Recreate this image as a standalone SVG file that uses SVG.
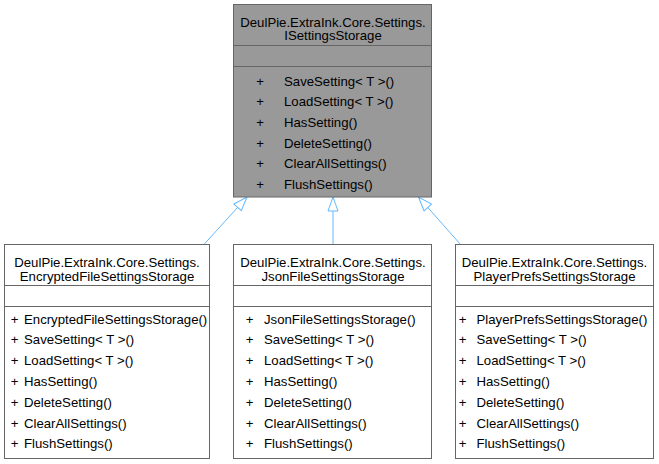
<svg xmlns="http://www.w3.org/2000/svg" width="659" height="464" viewBox="0 0 659 464">
<style>
text{font-family:"Liberation Sans",Arial,Helvetica,sans-serif;font-size:13.2px;fill:#000}
.c{text-anchor:middle}
.box{fill:#fff;stroke:#666666;stroke-width:1}
.main{fill:#999999;stroke:#666666;stroke-width:1}
.sep{stroke:#666666;stroke-width:1;fill:none}
.edge{stroke:#63B8FF;stroke-width:1;fill:none;marker-end:url(#inh)}
</style>
<defs>
<marker id="inh" markerUnits="userSpaceOnUse" markerWidth="18" markerHeight="14" refX="16" refY="7" orient="auto" overflow="visible">
<path d="M2,2 L16,7 L2,12 Z" fill="#fff" stroke="#63B8FF" stroke-width="1"/>
</marker>
</defs>
<g id="connectors">
<path class="edge" d="M203.5,245 L247,197"/>
<path class="edge" d="M333,245 L333,197"/>
<path class="edge" d="M461,245 L418.5,197"/>
</g>
<g id="ISettingsStorage">
<rect class="main" x="233.5" y="4.5" width="198" height="192.5"/>
<line class="sep" x1="233.5" y1="45.5" x2="431.5" y2="45.5"/>
<line class="sep" x1="233.5" y1="66.5" x2="431.5" y2="66.5"/>
<text class="c" x="333" y="26.6">DeulPie.ExtraInk.Core.Settings.</text>
<text class="c" x="333" y="40.4">ISettingsStorage</text>
<text class="c" x="260" y="85.5">+</text><text x="284" y="85.5">SaveSetting&lt; T &gt;()</text>
<text class="c" x="260" y="106.2">+</text><text x="284" y="106.2">LoadSetting&lt; T &gt;()</text>
<text class="c" x="260" y="126.9">+</text><text x="284" y="126.9">HasSetting()</text>
<text class="c" x="260" y="147.6">+</text><text x="284" y="147.6">DeleteSetting()</text>
<text class="c" x="260" y="168.3">+</text><text x="284" y="168.3">ClearAllSettings()</text>
<text class="c" x="260" y="189">+</text><text x="284" y="189">FlushSettings()</text>
</g>
<g id="EncryptedFileSettingsStorage">
<rect class="box" x="4.5" y="244.5" width="205" height="214"/>
<line class="sep" x1="4.5" y1="285.5" x2="209.5" y2="285.5"/>
<line class="sep" x1="4.5" y1="306.5" x2="209.5" y2="306.5"/>
<text class="c" x="107" y="267.3">DeulPie.ExtraInk.Core.Settings.</text>
<text class="c" x="107" y="281.1">EncryptedFileSettingsStorage</text>
<text class="c" x="14.5" y="323.5">+</text><text x="24" y="323.5">EncryptedFileSettingsStorage()</text>
<text class="c" x="14.5" y="344.3">+</text><text x="24" y="344.3">SaveSetting&lt; T &gt;()</text>
<text class="c" x="14.5" y="365.1">+</text><text x="24" y="365.1">LoadSetting&lt; T &gt;()</text>
<text class="c" x="14.5" y="385.9">+</text><text x="24" y="385.9">HasSetting()</text>
<text class="c" x="14.5" y="406.7">+</text><text x="24" y="406.7">DeleteSetting()</text>
<text class="c" x="14.5" y="427.5">+</text><text x="24" y="427.5">ClearAllSettings()</text>
<text class="c" x="14.5" y="448.3">+</text><text x="24" y="448.3">FlushSettings()</text>
</g>
<g id="JsonFileSettingsStorage">
<rect class="box" x="233.5" y="244.5" width="198" height="214"/>
<line class="sep" x1="233.5" y1="285.5" x2="431.5" y2="285.5"/>
<line class="sep" x1="233.5" y1="306.5" x2="431.5" y2="306.5"/>
<text class="c" x="333" y="267.3">DeulPie.ExtraInk.Core.Settings.</text>
<text class="c" x="333" y="281.1">JsonFileSettingsStorage</text>
<text class="c" x="249.5" y="323.5">+</text><text x="264" y="323.5">JsonFileSettingsStorage()</text>
<text class="c" x="249.5" y="344.3">+</text><text x="264" y="344.3">SaveSetting&lt; T &gt;()</text>
<text class="c" x="249.5" y="365.1">+</text><text x="264" y="365.1">LoadSetting&lt; T &gt;()</text>
<text class="c" x="249.5" y="385.9">+</text><text x="264" y="385.9">HasSetting()</text>
<text class="c" x="249.5" y="406.7">+</text><text x="264" y="406.7">DeleteSetting()</text>
<text class="c" x="249.5" y="427.5">+</text><text x="264" y="427.5">ClearAllSettings()</text>
<text class="c" x="249.5" y="448.3">+</text><text x="264" y="448.3">FlushSettings()</text>
</g>
<g id="PlayerPrefsSettingsStorage">
<rect class="box" x="455.5" y="244.5" width="198" height="214"/>
<line class="sep" x1="455.5" y1="285.5" x2="653.5" y2="285.5"/>
<line class="sep" x1="455.5" y1="306.5" x2="653.5" y2="306.5"/>
<text class="c" x="554.5" y="267.3">DeulPie.ExtraInk.Core.Settings.</text>
<text class="c" x="554.5" y="281.1">PlayerPrefsSettingsStorage</text>
<text class="c" x="462.5" y="323.5">+</text><text x="476.5" y="323.5">PlayerPrefsSettingsStorage()</text>
<text class="c" x="462.5" y="344.3">+</text><text x="476.5" y="344.3">SaveSetting&lt; T &gt;()</text>
<text class="c" x="462.5" y="365.1">+</text><text x="476.5" y="365.1">LoadSetting&lt; T &gt;()</text>
<text class="c" x="462.5" y="385.9">+</text><text x="476.5" y="385.9">HasSetting()</text>
<text class="c" x="462.5" y="406.7">+</text><text x="476.5" y="406.7">DeleteSetting()</text>
<text class="c" x="462.5" y="427.5">+</text><text x="476.5" y="427.5">ClearAllSettings()</text>
<text class="c" x="462.5" y="448.3">+</text><text x="476.5" y="448.3">FlushSettings()</text>
</g>
</svg>
